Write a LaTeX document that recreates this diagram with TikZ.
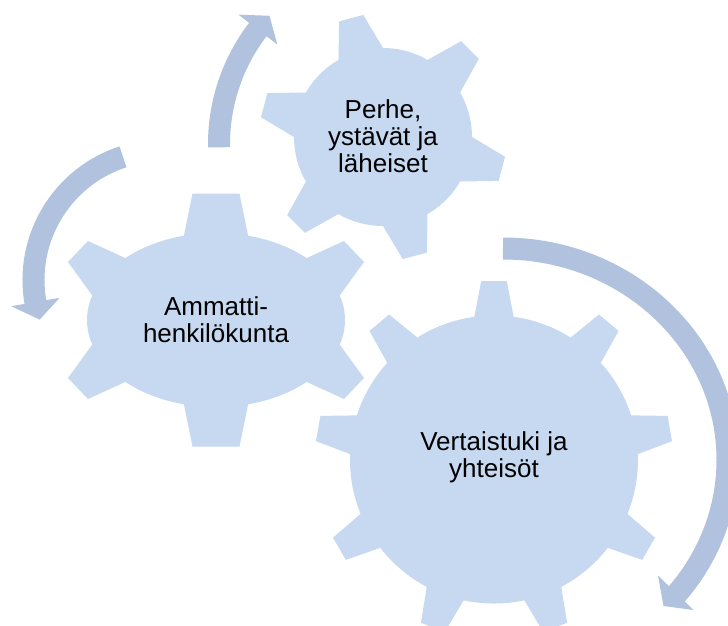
\documentclass[tikz,border=0pt]{standalone}
\usepackage{fontspec}
\setmainfont{Liberation Sans}
\usetikzlibrary{shapes.geometric}
\definecolor{gearblue}{HTML}{C6D9F1}
\definecolor{arrowblue}{HTML}{B0C2DD}
\tikzset{
  gearpart/.style={fill=gearblue, draw=none},
  gearbody/.style={gearpart, inner sep=0pt, outer sep=0pt},
  gearlabel/.style={align=center, text=black, inner sep=0pt,
    font=\fontsize{26}{27}\selectfont},
  arrowshaft/.style={draw=arrowblue, line width=22pt},
  arrowhead/.style={fill=arrowblue, draw=none},
}
\begin{document}
\begin{tikzpicture}[x=1pt,y=1pt]
% screen-like coordinates: y grows downwards
\begin{scope}[yscale=-1]
\useasboundingbox (0,0) rectangle (728,625);
\fill[white] (0,0) rectangle (728,625);

% --- big gear with nine teeth ---
\begin{scope}[shift={(494,459.5)}]
  \node[gearbody, circle, minimum size=288pt] (g3) at (0,0) {};
  \foreach \a in {-90,-50,...,230}
    \fill[gearpart, rotate=\a]
      (134.6,-21.2) -- (178.5,-12.8) -- (178.5,12.8) -- (134.6,21.2) -- cycle;
  \node[gearlabel] (l3) at (0,-2.5) {Vertaistuki ja\\yhteisöt};
\end{scope}

% --- wide gear with six teeth ---
\begin{scope}[shift={(216,320)}]
  \node[gearbody, ellipse, minimum width=258pt, minimum height=174pt] (g1) at (0,0) {};
  \fill[gearpart] (-23.5,-126.5) -- (23.5,-126.5) -- (33,-80) -- (-33,-80) -- cycle;
  \fill[gearpart] (-23.5,126.5) -- (23.5,126.5) -- (33,80) -- (-33,80) -- cycle;
  \fill[gearpart] (-148,-58) -- (-128,-79) -- (-84.25,-59) -- (-118,-16.75) -- cycle;
  \fill[gearpart] (-148,58) -- (-128,79) -- (-84.25,59) -- (-118,16.75) -- cycle;
  \fill[gearpart] (148,-58) -- (128,-79) -- (84.25,-59) -- (118,-16.75) -- cycle;
  \fill[gearpart] (148,58) -- (128,79) -- (84.25,59) -- (118,16.75) -- cycle;
  \node[gearlabel] (l1) at (0,-0.5) {Ammatti-\\henkilökunta};
\end{scope}

% --- small gear with six teeth ---
\begin{scope}[shift={(383,137)}]
  \node[gearbody, circle, minimum size=178pt] (g2) at (0,0) {};
  \foreach \a in {15,75,...,315}
    \fill[gearpart, rotate=\a]
      (78,-25.3) -- (123,-12.5) -- (123,12.5) -- (78,25.3) -- cycle;
  \node[gearlabel] (l2) at (0,-0.6) {Perhe,\\ystävät ja\\läheiset};
\end{scope}

% --- circular arrows ---
\begin{scope}[shift={(407,144)}]
  \coordinate (a1) at (179:188);
  \draw[arrowshaft] (a1) arc[start angle=179, end angle=218, radius=188];
  \fill[arrowhead] (217.5:212.5) -- (223:188) -- (217.5:163.5) -- cycle;
\end{scope}

\begin{scope}[shift={(163,280)}]
  \coordinate (b1) at (252:129.5);
  \draw[arrowshaft] (b1) arc[start angle=252, end angle=169.8, radius=129.5];
  \fill[arrowhead] (170.2:154) -- (162.2:129.5) -- (170.2:105) -- cycle;
\end{scope}

\begin{scope}[shift={(503,460)}]
  \coordinate (c1) at (270:224.5 and 211.5);
  \draw[arrowshaft] (c1) arc[start angle=270, end angle=400, x radius=224.5, y radius=211.5];
  \fill[arrowhead] (155,115.5) -- (160.5,146) -- (190.5,150) -- cycle;
\end{scope}
\end{scope}
\end{tikzpicture}
\end{document}
